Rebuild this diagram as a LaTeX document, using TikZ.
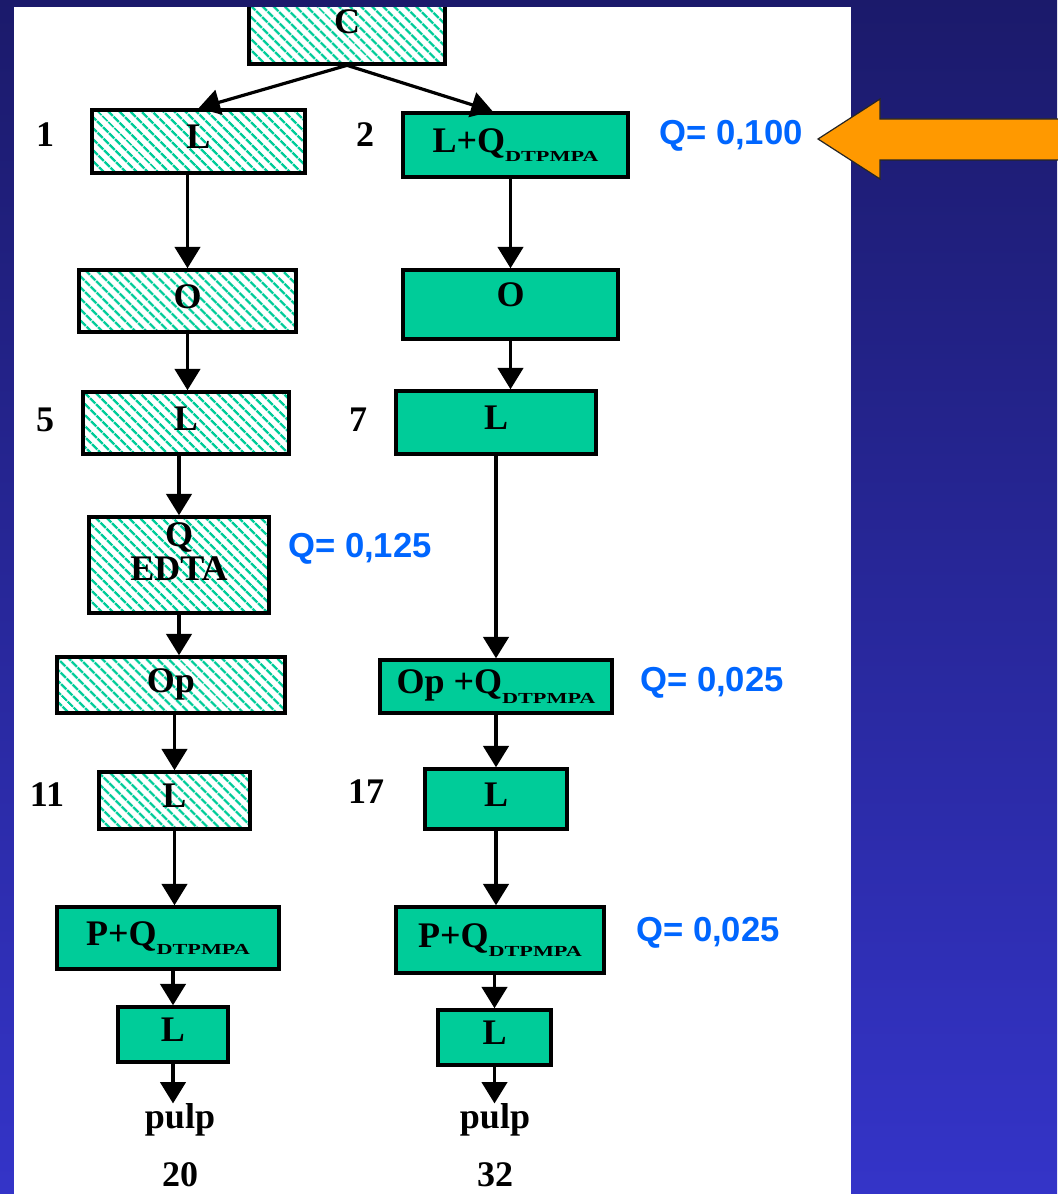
\documentclass[tikz,border=0pt]{standalone}
\usepackage{graphicx}
\usepackage{fontspec}
\setmainfont{Liberation Serif}
\newfontfamily\qfont{Liberation Sans}
\usetikzlibrary{arrows.meta,patterns.meta,calc}
\definecolor{teal1}{RGB}{0,204,153}
\definecolor{navytop}{RGB}{27,26,107}
\definecolor{navybot}{RGB}{52,52,200}
\definecolor{qblue}{RGB}{0,102,255}
\definecolor{orng}{RGB}{255,153,0}
\newcommand{\dtp}{\raisebox{-7.3pt}{\scalebox{1.45}[1]{\fontsize{11.5}{11.5}\selectfont DTPMPA}}}
\tikzset{
  box/.style={draw=black, line width=2.6pt, inner sep=0pt, text depth=7pt},
  hat/.style={box, pattern={Lines[angle=-45,distance=6.5pt,line width=2pt]}, pattern color=teal1},
  sol/.style={box, fill=teal1},
  sz/.style 2 args={minimum width=#1*0.75pt, minimum height=#2*0.75pt},
  arr/.style={line width=2.4pt, -{Triangle[width=19pt,length=16pt]}},
  num/.style={inner sep=0pt},
  ql/.style={text=qblue, font=\qfont\fontsize{26}{26}\selectfont\bfseries, inner sep=0pt}
}
\begin{document}
\begin{tikzpicture}[x=0.75pt, y=-0.75pt, font=\fontsize{27}{30}\selectfont\bfseries]
\useasboundingbox (0,0) rectangle (1057,1194);
\shade[top color=navytop, bottom color=navybot] (0,0) rectangle (1057,1194);
\fill[white] (14,7) rectangle (851,1194);

% left column
\node[hat, sz={196}{74}, text depth=8pt] (c) at (347,27) {C};
\node[hat, sz={213}{63}] (l1) at (198.5,141.5) {L};
\node[hat, sz={217}{62}] (o1) at (187.5,301) {O};
\node[hat, sz={206}{62}] (l5) at (186,423) {L};
\node[hat, sz={180}{96}, align=center, text depth=20pt, font=\fontsize{27}{26}\selectfont\bfseries] (qe) at (179,565) {Q\\EDTA};
\node[hat, sz={228}{56}] (op1) at (171,685) {Op};
\node[hat, sz={151}{57}] (l11) at (174.5,800.5) {L};
\node[sol, sz={222}{62}] (pq1) at (168,938) {P+Q\dtp};
\node[sol, sz={110}{55}] (lf1) at (173,1034.5) {L};
\node[num] (pulp1) at (180,1120) {pulp};
\node[num] (n20) at (180,1175) {20};

% right column
\node[sol, sz={225}{64}] (lq) at (515.5,145) {L+Q\dtp};
\node[sol, sz={215}{69}, text depth=15pt] (o2) at (510.5,304.5) {O};
\node[sol, sz={200}{63}] (l7) at (496,422.5) {L};
\node[sol, sz={232}{53}] (opq) at (496,686.5) {Op +Q\dtp};
\node[sol, sz={142}{60}] (l17) at (496,799) {L};
\node[sol, sz={208}{66}] (pq2) at (500,940) {P+Q\dtp};
\node[sol, sz={113}{55}] (lf2) at (494.5,1037.5) {L};
\node[num] (pulp2) at (495,1120) {pulp};
\node[num] (n32) at (495,1175) {32};

% step numbers
\node[num] (s1) at (45,135) {1};
\node[num] (s2) at (365,135) {2};
\node[num] (s5) at (45,420) {5};
\node[num] (s7) at (358,420) {7};
\node[num] (s11) at (47,795) {11};
\node[num] (s17) at (366,792) {17};

% Q labels
\node[ql] (q1) at (731,136) {Q= 0,100};
\node[ql] (q2) at (360,549) {Q= 0,125};
\node[ql] (q3) at (712,683) {Q= 0,025};
\node[ql] (q4) at (708,933) {Q= 0,025};

% top strip over C box
\fill[navytop] (14,0) rectangle (851,7);

% arrows
\draw[arr] (c.south) -- (l1.north);
\draw[arr] (c.south) -- ($(lq.north west)!0.4!(lq.north east)$);
\draw[arr] (l1.south -| o1.north) -- (o1.north);
\draw[arr] (o1.south) -- (o1.south |- l5.north);
\draw[arr] (l5.south -| qe.north) -- (qe.north);
\draw[arr] (qe.south) -- (qe.south |- op1.north);
\draw[arr] (op1.south -| l11.north) -- (l11.north);
\draw[arr] (l11.south) -- (l11.south |- pq1.north);
\draw[arr] (pq1.south -| lf1.north) -- (lf1.north);
\draw[arr] (lf1.south) -- (lf1.south |- pulp1.north);

\draw[arr] (lq.south -| o2.north) -- (o2.north);
\draw[arr] (o2.south) -- (o2.south |- l7.north);
\draw[arr] (l7.south) -- (l7.south |- opq.north);
\draw[arr] (opq.south) -- (opq.south |- l17.north);
\draw[arr] (l17.south) -- (l17.south |- pq2.north);
\draw[arr] (pq2.south -| lf2.north) -- (lf2.north);
\draw[arr] (lf2.south) -- (lf2.south |- pulp2.north);

% orange pointer arrow
\filldraw[fill=orng, draw=black!85, line width=0.9pt]
  (818,139) -- (880,99) -- (880,119) -- (1062,119) -- (1062,160) -- (880,160) -- (880,179) -- cycle;
\end{tikzpicture}
\end{document}
